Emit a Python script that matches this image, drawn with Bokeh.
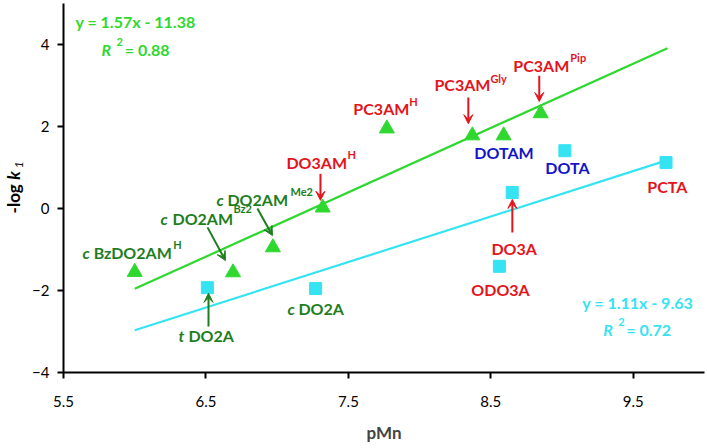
from math import pi
from bokeh.plotting import figure
from bokeh.layouts import row
from bokeh.models import Label, Arrow, VeeHead, FixedTicker, Range1d
from bokeh.core.properties import value
from bokeh.embed import file_html
from bokeh.resources import INLINE

# ---------------- data ----------------
amide_names = ["c BzDO2AM^H", "c DO2AM^Bz2", "c DO2AM^Me2", "DO3AM^H",
               "PC3AM^H", "PC3AM^Gly", "DOTAM", "PC3AM^Pip"]
amide_pmn = [6.00, 6.69, 6.97, 7.32, 7.77, 8.37, 8.59, 8.85]
amide_logk = [-1.55, -1.56, -0.95, 0.02, 1.95, 1.78, 1.78, 2.32]

acid_names = ["t DO2A", "c DO2A", "DO3A", "ODO3A", "DOTA", "PCTA"]
acid_pmn = [6.51, 7.27, 8.65, 8.56, 9.02, 9.73]
acid_logk = [-1.93, -1.95, 0.39, -1.41, 1.41, 1.12]

trend_x = [6.0, 9.74]
amide_trend_y = [-1.96, 3.91]   # y = 1.57x - 11.38
acid_trend_y = [-2.97, 1.18]    # y = 1.11x - 9.63

x_ticks = [5.5, 6.5, 7.5, 8.5, 9.5]
y_ticks = [-4, -2, 0, 2, 4]

# ---------------- styles ----------------
FONT = "Lato"
GREEN = "#2FD82F"
CYAN = "#35E3F2"
RED = "#E3141C"
DKGREEN = "#1E7E1E"
BLUE = "#1414C8"

H = 448
TOP, FH = 3, 369
BOT = H - TOP - FH
LW = 24

yr = Range1d(-4, 5)

p = figure(width=707 - LW, height=H, output_backend="svg", toolbar_location=None,
           x_range=Range1d(5.5, 10.0), y_range=yr,
           min_border_left=63 - LW, min_border_right=3, min_border_top=TOP,
           min_border_bottom=BOT)
p.frame_width = 641
p.frame_height = FH
p.outline_line_color = None
p.xgrid.visible = False
p.ygrid.visible = False

for ax in (p.xaxis[0], p.yaxis[0]):
    ax.axis_line_color = "black"
    ax.axis_line_width = 2
    ax.major_tick_line_color = "black"
    ax.major_tick_line_width = 2
    ax.major_tick_out = 6
    ax.major_tick_in = 0
    ax.minor_tick_line_color = None
    ax.major_label_text_font = FONT
    ax.major_label_text_font_size = "15px"
    ax.major_label_text_color = "black"

p.xaxis.ticker = FixedTicker(ticks=x_ticks)
p.yaxis.ticker = FixedTicker(ticks=y_ticks)
p.xaxis.major_label_overrides = {t: f"{t:.1f}" for t in x_ticks}
p.xaxis.major_label_standoff = 17
p.yaxis.major_label_standoff = 8
p.xaxis.axis_label = "pMn"
p.xaxis.axis_label_text_font = FONT
p.xaxis.axis_label_text_font_size = "17px"
p.xaxis.axis_label_text_font_style = "bold"
p.xaxis.axis_label_standoff = 12

# trend lines
p.line(trend_x, amide_trend_y, line_color=GREEN, line_width=2.2)
p.line(trend_x, acid_trend_y, line_color=CYAN, line_width=2.2)

# points
p.scatter(amide_pmn, amide_logk, marker="triangle", size=15,
          fill_color=GREEN, line_color=GREEN)
p.scatter(acid_pmn, acid_logk, marker="square", size=12,
          fill_color=CYAN, line_color=CYAN)


def txt(x, y, s, color, size=16, style="bold", align="left"):
    p.add_layout(Label(x=x, y=y, text=s, text_color=color, text_font=FONT,
                       text_font_size=f"{size}px", text_font_style=style,
                       text_align=align, text_baseline="middle"))


def sup(x, y, main, supers, color, prefix=None, px=None):
    if prefix is not None:
        txt(px, y, prefix, color, style="bold italic")
    txt(x, y, main, color)
    if supers:
        txt(supers[0], supers[1], supers[2], color, size=11)


# equations
txt(5.584, 4.56, "y = 1.57x - 11.38", GREEN)
txt(5.767, 3.88, "R", GREEN, style="bold italic")
txt(5.872, 4.05, "2", GREEN, size=11)
txt(5.93, 3.88, "= 0.88", GREEN)

txt(9.142, -2.29, "y = 1.11x - 9.63", CYAN)
txt(9.289, -2.95, "R", CYAN, style="bold italic")
txt(9.395, -2.78, "2", CYAN, size=11)
txt(9.451, -2.95, "= 0.72", CYAN)

# compound labels
sup(7.535, 2.44, "PC3AM", (7.928, 2.61, "H"), RED)
sup(8.104, 3.02, "PC3AM", (8.497, 3.17, "Gly"), RED)
sup(8.658, 3.50, "PC3AM", (9.058, 3.68, "Pip"), RED)
sup(7.065, 1.12, "DO3AM", (7.493, 1.31, "H"), RED)
txt(8.384, 1.37, "DOTAM", BLUE)
txt(8.882, 1.00, "DOTA", BLUE)
txt(9.598, 0.54, "PCTA", RED)
txt(8.504, -0.98, "DO3A", RED)
txt(8.363, -1.98, "ODO3A", RED)
sup(6.651, 0.22, "DO2AM", (7.093, 0.41, "Me2"), DKGREEN, prefix="c", px=6.574)
sup(6.265, -0.24, "DO2AM", (6.693, -0.01, "Bz2"), DKGREEN, prefix="c", px=6.181)
sup(5.712, -1.07, "BzDO2AM", (6.270, -0.87, "H"), DKGREEN, prefix="c", px=5.633)
sup(7.149, -2.44, "DO2A", None, DKGREEN, prefix="c", px=7.072)
sup(6.377, -3.10, "DO2A", None, DKGREEN, prefix="t", px=6.307)

# arrows (tail -> tip)
arrows = [
    (8.342, 2.71, 8.342, 2.07, RED),
    (8.840, 3.24, 8.840, 2.61, RED),
    (7.304, 0.85, 7.304, 0.20, RED),
    (8.651, -0.585, 8.651, 0.22, RED),
    (6.511, -0.46, 6.637, -1.27, DKGREEN),
    (6.861, 0.00, 6.967, -0.66, DKGREEN),
    (6.518, -2.88, 6.518, -2.07, DKGREEN),
]
for xs, ys, xe, ye, c in arrows:
    p.add_layout(Arrow(x_start=xs, y_start=ys, x_end=xe, y_end=ye,
                       line_color=c, line_width=2,
                       end=VeeHead(size=9, fill_color=c, line_color=c, line_width=1)))

# y axis label "-log k1" in a narrow side panel sharing the y range
lf = figure(width=LW, height=H, output_backend="svg", toolbar_location=None,
            x_range=Range1d(0, LW), y_range=yr, x_axis_type=None, y_axis_type=None,
            min_border_left=0, min_border_right=0, min_border_top=TOP,
            min_border_bottom=BOT)
lf.frame_width = LW
lf.frame_height = FH
lf.outline_line_color = None
lf.xgrid.visible = False
lf.ygrid.visible = False
lf.text(x=[13], y=[-0.12], text=["-log"], angle=pi / 2, text_align="left",
        text_baseline="middle", text_font=value(FONT), text_font_size="17px",
        text_font_style="bold", text_color="black")
lf.text(x=[13], y=[0.70], text=["k"], angle=pi / 2, text_align="left",
        text_baseline="middle", text_font=value(FONT), text_font_size="17px",
        text_font_style="bold italic", text_color="black")
lf.text(x=[18], y=[0.98], text=["1"], angle=pi / 2, text_align="left",
        text_baseline="middle", text_font=value(FONT), text_font_size="12px",
        text_font_style="italic", text_color="black")

open("out.html", "w").write(file_html(row(lf, p), INLINE))
